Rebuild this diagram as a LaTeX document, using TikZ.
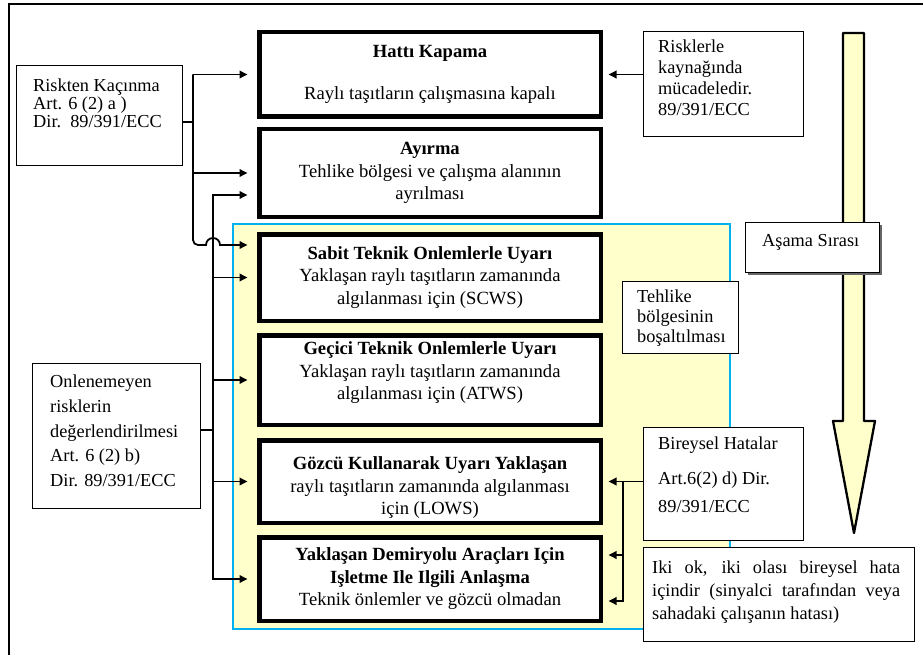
\documentclass[tikz,border=0pt]{standalone}
\usepackage{fontspec}
\setmainfont{Liberation Serif}
\usetikzlibrary{arrows.meta,shadows,calc}

\definecolor{paleyellow}{RGB}{255,255,204}
\definecolor{zoneblue}{RGB}{0,176,240}

\begin{document}
\begin{tikzpicture}[x=1pt,y=-1pt,
  font=\fontsize{18.3}{22}\selectfont,
  wire/.style={line width=1.8pt},
  arr/.style={wire,-{Triangle[length=8pt,width=7.5pt]}},
  mainbox/.style={draw,line width=4.5pt,fill=white,minimum width=341.5pt,
    inner sep=0pt,align=center,font=\fontsize{18.6}{22.5}\selectfont},
  sidebox/.style={draw,line width=1.2pt,fill=white,inner sep=0pt},
  sidetext/.style={inner sep=0pt,anchor=north west,align=left},
]
\useasboundingbox (0,0) rectangle (923,655);

% outer frame
\draw[line width=1.3pt] (9,655) -- (9,4) -- (923,4);

% shaded zone behind the warning measures
\node[draw=zoneblue,line width=2pt,fill=paleyellow,minimum width=497pt,
  minimum height=405pt,inner sep=0pt] (zone) at (481.5,426.5) {};

% order-of-stages arrow
\draw[line width=2.3pt,fill=paleyellow,line join=round]
  (843,33) -- (864,33) -- (864,421) -- (875,421) -- (854,533)
  -- (833,421) -- (843,421) -- cycle;

% measures, top to bottom
\node[mainbox,minimum height=84.5pt] (hat) at (430,74.5)
  {\textbf{Hattı Kapama}\\[20pt]Raylı taşıtların çalışmasına kapalı};
\node[mainbox,minimum height=87.5pt] (ayr) at (430,173)
  {\textbf{Ayırma}\\Tehlike bölgesi ve çalışma alanının\\ayrılması};
\node[mainbox,minimum height=86.5pt] (sab) at (430,277.5)
  {\textbf{Sabit Teknik Onlemlerle Uyarı}\\Yaklaşan raylı taşıtların zamanında\\algılanması için (SCWS)};
\node[mainbox,minimum height=89.5pt] (gec) at (430,380)
  {\textbf{Geçici Teknik Onlemlerle Uyarı}\\Yaklaşan raylı taşıtların zamanında\\algılanması için (ATWS)\rule[-18pt]{0pt}{1pt}};
\node[mainbox,minimum height=82.5pt] (goz) at (430,481.5)
  {\rule{0pt}{25pt}\textbf{Gözcü Kullanarak Uyarı Yaklaşan}\\raylı taşıtların zamanında algılanması\\için (LOWS)};
\node[mainbox,minimum height=83.5pt] (yak) at (430,579)
  {\textbf{Yaklaşan Demiryolu Araçları Için}\\\textbf{Işletme Ile Ilgili Anlaşma}\\Teknik önlemler ve gözcü olmadan};

% side boxes
\node[sidebox,minimum width=166pt,minimum height=100pt] (riskA) at (99.5,115.5) {};
\node[sidetext,font=\fontsize{18.3}{18}\selectfont] (riskAtext) at (33,79)
  {Riskten Kaçınma\\Art. 6 (2) a )\\Dir.\ \ 89/391/ECC};

\node[sidebox,minimum width=168pt,minimum height=145pt] (riskB) at (116.5,436) {};
\node[sidetext,font=\fontsize{18.3}{24.6}\selectfont] (riskBtext) at (50,375)
  {Onlenemeyen\\risklerin\\değerlendirilmesi\\Art. 6 (2) b)\\Dir. 89/391/ECC};

\node[sidebox,minimum width=160pt,minimum height=105pt] (ris) at (723.5,84) {};
\node[sidetext,font=\fontsize{18.3}{21}\selectfont] (ristext) at (658,40)
  {Risklerle\\kaynağında\\mücadeledir.\\89/391/ECC};

\node[sidebox,minimum width=116pt,minimum height=72pt] (teh) at (680.5,317.5) {};
\node[sidetext,font=\fontsize{18.3}{20}\selectfont] (tehtext) at (637,290)
  {Tehlike\\bölgesinin\\boşaltılması};

\node[sidebox,minimum width=134pt,minimum height=50pt,
  drop shadow={shadow xshift=2.5pt,shadow yshift=-2.5pt,fill=black!60,opacity=1}]
  (asa) at (812.5,247.5) {};
\node[sidetext] (asatext) at (762,234) {Aşama Sırası};

\node[sidebox,minimum width=160pt,minimum height=113pt] (bir) at (723.5,484) {};
\node[sidetext,font=\fontsize{18.3}{28}\selectfont] (birtext) at (658,437)
  {Bireysel Hatalar\\[7pt]Art.6(2) d) Dir.\\89/391/ECC};

\node[sidebox,minimum width=271pt,minimum height=94pt] (iki) at (779,594.5) {};
\node[sidetext,text width=248pt,align=justify,font=\fontsize{18.3}{22.7}\selectfont]
  (ikitext) at (652,561)
  {\hyphenpenalty=10000 \exhyphenpenalty=10000 Iki ok, iki olası bireysel hata\linebreak
   içindir (sinyalci tarafından veya\linebreak sahadaki çalışanın hatası)};

% bus lines
\coordinate (busA) at (193,0);
\coordinate (busB) at (213,0);
\coordinate (busC) at (623,0);
\coordinate (aOut) at ($(riskA.east)+(0,6.5)$);
\coordinate (bOut) at ($(riskB.east)+(0,-6)$);
\coordinate (sabHi) at ($(sab.west)+(0,-32.5)$);
\coordinate (ayrLo) at ($(ayr.west)+(0,22)$);
\coordinate (yakHi) at ($(yak.east)+(0,-24)$);
\coordinate (yakLo) at ($(yak.east)+(0,22)$);

% avoidance branch
\draw[wire] (aOut) -- (busA |- aOut);
\draw[arr,shorten >=9.5pt] (busA |- hat.west) -- (hat.west);
\draw[arr,shorten >=9.5pt] (busA |- ayr.west) -- (ayr.west);
\draw[arr,shorten >=9.5pt] (busA |- hat.west) -- ($(busA |- sabHi)+(0,-5)$)
  arc[start angle=180,end angle=90,radius=5]
  -- ($(busB |- sabHi)+(-7,0)$) arc[start angle=180,end angle=360,radius=7]
  -- (sabHi);

% assessment branch
\draw[wire] (bOut) -- (busB |- bOut);
\draw[arr,shorten >=9.5pt] (busB |- yak.west) -- (busB |- ayrLo) -- (ayrLo);
\draw[arr,shorten >=9.5pt] (busB |- sab.west) -- (sab.west);
\draw[arr,shorten >=9.5pt] (busB |- gec.west) -- (gec.west);
\draw[arr,shorten >=9.5pt] (busB |- goz.west) -- (goz.west);
\draw[arr,shorten >=9.5pt] (busB |- ayrLo) -- (busB |- yak.west) -- (yak.west);

% source and individual error inputs
\draw[arr,shorten >=5.5pt] (ris.west |- hat.east) -- (hat.east);
\draw[wire] (bir.west |- goz.east) -- (busC |- goz.east);
\draw[arr,shorten >=5.5pt] (busC |- goz.east) -- (goz.east);
\draw[arr,shorten >=5.5pt] (busC |- goz.east) -- (busC |- yakLo) -- (yakLo);
\draw[arr,shorten >=5.5pt] (busC |- yakHi) -- (yakHi);
\end{tikzpicture}
\end{document}
